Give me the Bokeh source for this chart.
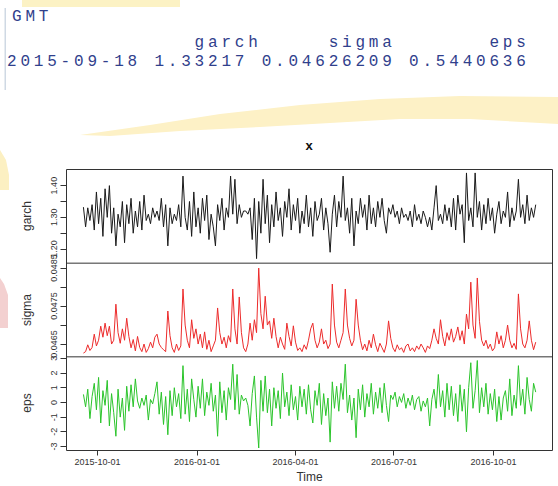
import pandas as pd
from bokeh.plotting import figure
from bokeh.models import Range1d, FixedTicker, Span, DatetimeTickFormatter, Div
from bokeh.layouts import column, row
from bokeh.embed import file_html
from bokeh.resources import INLINE

# ---------------- data ----------------
start_date = "2015-09-18"
series_names = ["garch", "sigma", "eps"]

garch = [1.33217, 1.27, 1.33, 1.29, 1.34,
         1.26, 1.38, 1.28, 1.36, 1.24,
         1.39, 1.30, 1.40, 1.25, 1.33,
         1.21, 1.31, 1.27, 1.35, 1.22,
         1.34, 1.28, 1.36, 1.25, 1.32,
         1.27, 1.35, 1.26, 1.37, 1.29,
         1.31, 1.28, 1.33, 1.30, 1.32,
         1.29, 1.36, 1.27, 1.34, 1.21,
         1.33, 1.28, 1.31, 1.29, 1.34,
         1.27, 1.43, 1.30, 1.26, 1.35,
         1.24, 1.38, 1.27, 1.33, 1.25,
         1.36, 1.29, 1.37, 1.23, 1.31,
         1.27, 1.21, 1.34, 1.29, 1.36,
         1.26, 1.33, 1.30, 1.43, 1.31,
         1.42, 1.28, 1.34, 1.30, 1.32,
         1.32, 1.31, 1.33, 1.23, 1.36,
         1.17, 1.35, 1.25, 1.42, 1.28,
         1.37, 1.22, 1.34, 1.27, 1.38,
         1.29, 1.33, 1.24, 1.35, 1.30,
         1.39, 1.26, 1.34, 1.29, 1.36,
         1.25, 1.32, 1.28, 1.37, 1.27,
         1.33, 1.24, 1.35, 1.29, 1.31,
         1.36, 1.26, 1.33, 1.28, 1.19,
         1.31, 1.37, 1.27, 1.35, 1.30,
         1.43, 1.29, 1.33, 1.25, 1.36,
         1.21, 1.32, 1.28, 1.36, 1.30,
         1.34, 1.26, 1.37, 1.28, 1.33,
         1.27, 1.35, 1.30, 1.36, 1.29,
         1.25, 1.33, 1.31, 1.34, 1.30,
         1.32, 1.28, 1.33, 1.30, 1.31,
         1.29, 1.32, 1.27, 1.34, 1.29,
         1.31, 1.28, 1.32, 1.30, 1.27,
         1.30, 1.26, 1.33, 1.40, 1.29,
         1.31, 1.28, 1.34, 1.29, 1.33,
         1.27, 1.36, 1.26, 1.37, 1.31,
         1.34, 1.22, 1.44, 1.29, 1.33,
         1.27, 1.44, 1.30, 1.35, 1.26,
         1.34, 1.28, 1.36, 1.29, 1.33,
         1.25, 1.31, 1.35, 1.28, 1.32,
         1.30, 1.38, 1.27, 1.33, 1.29,
         1.32, 1.42, 1.30, 1.34, 1.28,
         1.37, 1.29, 1.33, 1.30, 1.34]

sigma = [0.04626209, 0.04630, 0.04648, 0.04633, 0.04641,
         0.04676, 0.04645, 0.04660, 0.04697, 0.04668,
         0.04705, 0.04672, 0.04697, 0.04650, 0.04660,
         0.04755, 0.04680, 0.04652, 0.04690, 0.04660,
         0.04718, 0.04670, 0.04640, 0.04662, 0.04632,
         0.04670, 0.04641, 0.04630, 0.04650, 0.04628,
         0.04638, 0.04655, 0.04640, 0.04668, 0.04676,
         0.04650, 0.04641, 0.04635, 0.04630, 0.04737,
         0.04672, 0.04640, 0.04628, 0.04650, 0.04633,
         0.04645, 0.04795, 0.04700, 0.04660, 0.04640,
         0.04714, 0.04665, 0.04690, 0.04650, 0.04676,
         0.04640, 0.04682, 0.04636, 0.04660, 0.04630,
         0.04645, 0.04660, 0.04745, 0.04680, 0.04650,
         0.04668, 0.04640, 0.04672, 0.04655, 0.04795,
         0.04690, 0.04650, 0.04774, 0.04680, 0.04640,
         0.04630, 0.04650, 0.04705, 0.04660, 0.04714,
         0.04680, 0.04850, 0.04730, 0.04690, 0.04776,
         0.04700, 0.04711, 0.04665, 0.04718, 0.04670,
         0.04640, 0.04668, 0.04650, 0.04636, 0.04705,
         0.04670, 0.04645, 0.04698, 0.04655, 0.04633,
         0.04640, 0.04630, 0.04648, 0.04636, 0.04660,
         0.04690, 0.04705, 0.04660, 0.04640, 0.04655,
         0.04690, 0.04650, 0.04660, 0.04638, 0.04650,
         0.04808, 0.04700, 0.04655, 0.04640, 0.04660,
         0.04680, 0.04795, 0.04700, 0.04665, 0.04645,
         0.04660, 0.04768, 0.04700, 0.04660, 0.04635,
         0.04650, 0.04632, 0.04660, 0.04640, 0.04676,
         0.04648, 0.04630, 0.04652, 0.04640, 0.04628,
         0.04650, 0.04711, 0.04665, 0.04640, 0.04630,
         0.04648, 0.04635, 0.04640, 0.04628, 0.04645,
         0.04650, 0.04632, 0.04640, 0.04630, 0.04645,
         0.04636, 0.04650, 0.04640, 0.04628, 0.04645,
         0.04638, 0.04660, 0.04690, 0.04665, 0.04650,
         0.04714, 0.04670, 0.04645, 0.04680, 0.04660,
         0.04690, 0.04655, 0.04670, 0.04695, 0.04660,
         0.04685, 0.04650, 0.04729, 0.04690, 0.04813,
         0.04700, 0.04665, 0.04824, 0.04710, 0.04660,
         0.04645, 0.04660, 0.04638, 0.04650, 0.04632,
         0.04640, 0.04682, 0.04650, 0.04672, 0.04640,
         0.04660, 0.04700, 0.04660, 0.04640, 0.04652,
         0.04636, 0.04782, 0.04690, 0.04650, 0.04640,
         0.04660, 0.04711, 0.04660, 0.04635, 0.04655]

eps = [0.5440636, -0.3, 0.9, -1.1, 0.4,
       1.3, -0.5, 1.7, -1.4, 0.8,
       -0.2, 1.5, -1.6, 0.6, -0.7,
       -2.3, 0.9, -1.0, 0.3, -1.9,
       1.1, -0.6, 1.2, -0.3, 1.6,
       0.1, -0.4, 0.3, -0.2, 0.5,
       -1.2, 0.2, -0.1, 0.6, 1.4,
       -0.8, 0.7, -1.5, 0.4, -2.2,
       0.8, -0.9, 1.0, -0.3, 0.6,
       -1.1, 2.5, -0.8, 0.9, -1.3,
       1.6, 0.2, -1.0, 1.1, -0.4,
       1.6, -0.9, 0.7, -0.2, 1.3,
       -0.6, 0.5, -2.3, 1.4, -0.7,
       0.8, -1.2, 1.0, 0.2, 2.6,
       -0.5, 1.9, -0.8, 0.5, 0.1,
       0.3, -0.2, -1.6, 0.6, 1.8,
       -1.0, -3.1, 1.5, -0.6, 1.8,
       -0.7, 0.9, -1.6, 1.0, -0.4,
       0.8, -1.1, 2.0, -0.3, 0.7,
       -0.9, 1.2, -0.5, 0.4, -1.2,
       1.1, -0.3, 0.9, -0.8, 1.2,
       -0.5, -1.4, 0.8, -0.2, 1.3,
       -1.5, 0.6, -0.9, 0.3, -2.7,
       1.4, -0.4, 1.1, -0.6, 1.3,
       0.2, 2.6, -0.7, 0.5, -1.2,
       0.3, -2.4, 0.9, -0.5, 1.2,
       -1.0, 0.6, -0.3, 1.3, -0.8,
       0.7, -0.4, 1.0, -0.7, 1.3,
       -0.2, -1.3, 0.5, 0.2, 0.7,
       -0.3, 0.4, 0.0, 0.6, -0.4,
       0.3, -0.2, 0.5, -0.5, 0.2,
       0.4, -0.6, 0.1, -0.3, 0.3,
       -1.6, 0.2, 0.9, -0.4, 1.9,
       -0.3, 0.8, -1.0, 1.3, -0.5,
       1.1, -0.9, 0.6, -1.3, 1.2,
       -0.6, 0.9, -2.0, 1.0, 2.7,
       -0.4, 0.8, 2.85, -0.7, 1.0,
       -0.3, 1.3, -0.8, 0.6, -0.5,
       0.9, -1.3, 0.4, -1.2, 0.3,
       0.8, -0.6, 1.6, -0.9, 0.5,
       -0.4, 2.5, -0.2, 0.9, -0.8,
       1.7, 0.2, -0.6, 1.3, 0.7]

garch_lim = (1.1556, 1.4508)
sigma_lim = (0.046163, 0.048630)
eps_lim = (-3.27, 3.10)

garch_ticks = [1.20, 1.25, 1.30, 1.35, 1.40]
garch_tick_labels = ["1.20", "", "1.30", "", "1.40"]
sigma_ticks = [0.0465, 0.0470, 0.0475, 0.0480, 0.0485]
sigma_tick_labels = ["0.0465", "", "0.0475", "", "0.0485"]
eps_ticks = [-3, -2, -1, 0, 1, 2, 3]
eps_tick_labels = ["-3", "-2", "-1", "0", "1", "2", "3"]

x_tick_dates = ["2015-10-01", "2016-01-01", "2016-04-01", "2016-07-01", "2016-10-01"]
x_start, x_end = "2015-09-02 08:24", "2016-11-24 12:00"

dates = pd.date_range(start_date, periods=len(garch), freq="2D")

# ---------------- layout constants ----------------
HEAD_H = 160            # height of the console-output strip
LEFT_W = 40             # strip holding the panel names
FT, FW, FH = 9, 486, 281  # frame top offset / size inside the plot
PLOT_H = FT + FH + 36
NP = len(series_names)

# ---------------- header: the R console output above the chart ----------------
TXT = "#30408c"
row_vals = [start_date, f"{garch[0]:.5f}", f"{sigma[0]:.8f}", f"{eps[0]:.7f}"]
row3 = " ".join(row_vals)
row2 = (" " * 14 + series_names[0] + " " * 5 + series_names[1] + " " * 7 + series_names[2])

mono = ("font-family:'Liberation Mono',monospace;font-size:16px;line-height:16px;"
        "letter-spacing:3.8px;white-space:pre;color:%s;position:absolute;margin:0;" % TXT)
header_html = f"""
<div style="position:relative;width:558px;height:{HEAD_H}px;overflow:hidden;background:#ffffff;">
  <svg width="558" height="{HEAD_H}" style="position:absolute;left:0;top:0;">
    <rect x="22" y="0" width="158" height="7" fill="#fcf2c4"/>
    <polygon fill="#fdf1c6" points="80,135 150,125 220,114 300,105 380,99 460,96 558,97 558,124 470,119 400,119 330,123 260,127 180,131 110,136"/>
    <polygon fill="#fcf0c2" points="0,150 6,160 0,160"/>
    <rect x="4.5" y="8" width="1.5" height="82" fill="#cfd9e4"/>
  </svg>
  <div style="{mono}left:12px;top:9px;">GMT</div>
  <div style="{mono}left:7px;top:35px;">{row2}</div>
  <div style="{mono}left:7px;top:54px;">{row3}</div>
  <div style="position:absolute;left:259px;top:139px;width:100px;text-align:center;
              font-family:'Liberation Sans',Arial,sans-serif;font-weight:bold;font-size:13px;
              line-height:13px;color:#111111;">x</div>
</div>
"""
head = Div(text=header_html, width=558, height=HEAD_H, margin=0)

# ---------------- left strip: panel names (rotated, like R's ylab) ----------------
label_divs = ""
for i, name in enumerate(series_names):
    yc = FT + FH * (i + 0.5) / NP
    label_divs += (f'<div style="position:absolute;left:-23px;top:{yc - 7:.1f}px;width:100px;'
                   f'height:14px;line-height:14px;text-align:center;transform:rotate(-90deg);'
                   f"font-family:'Liberation Sans',Arial,sans-serif;font-size:12px;"
                   f'color:#333333;">{name}</div>')
left_html = f"""
<div style="position:relative;width:{LEFT_W}px;height:{PLOT_H}px;background:#ffffff;">
  <svg width="{LEFT_W}" height="{PLOT_H}" style="position:absolute;left:0;top:0;">
    <polygon fill="#fcf0c2" points="0,0 6,0 9,15 9,30 0,30"/>
    <polygon fill="#f3d0d0" points="0,118 4,124 8,135 8,168 0,168"/>
  </svg>
  {label_divs}
</div>
"""
left = Div(text=left_html, width=LEFT_W, height=PLOT_H, margin=0)

# ---------------- main multi-panel plot ----------------
p = figure(frame_width=FW, frame_height=FH, x_axis_type="datetime",
           x_range=Range1d(pd.Timestamp(x_start), pd.Timestamp(x_end)),
           y_range=Range1d(0, NP), toolbar_location=None, output_backend="svg",
           min_border_left=66 - LEFT_W, min_border_right=6, min_border_top=FT,
           min_border_bottom=36)
p.grid.visible = False
p.outline_line_color = "#333333"
p.outline_line_width = 1

panels = [("garch", garch, garch_lim, 2, "#1a1a1a"),
          ("sigma", sigma, sigma_lim, 1, "#ec2b2b"),
          ("eps", eps, eps_lim, 0, "#2bc42b")]
tick_sets = {"garch": (garch_ticks, garch_tick_labels),
             "sigma": (sigma_ticks, sigma_tick_labels),
             "eps": (eps_ticks, eps_tick_labels)}
tick_pos, tick_lab = [], []
for name, vals, (lo, hi), k, col in panels:
    h = hi - lo
    p.extra_y_ranges[name] = Range1d(lo - k * h, hi + (NP - 1 - k) * h)
    p.line(dates, vals, y_range_name=name, line_color=col, line_width=1)
    tv, tl = tick_sets[name]
    for v, l in zip(tv, tl):
        tick_pos.append(round(k + (v - lo) / h, 6))
        tick_lab.append(l)

for b in range(1, NP):
    p.add_layout(Span(location=b, dimension="width", line_color="#333333", line_width=1))

yax = p.yaxis[0]
yax.ticker = FixedTicker(ticks=tick_pos)
yax.major_label_overrides = {t: l for t, l in zip(tick_pos, tick_lab)}
yax.major_label_orientation = "vertical"
yax.major_tick_out = 6
yax.major_tick_in = 0
yax.minor_tick_line_color = None
yax.axis_line_color = None
yax.major_label_standoff = 3
yax.major_label_text_font = "Liberation Sans"
yax.major_label_text_font_size = "9px"
yax.major_label_text_color = "#333333"
yax.major_tick_line_color = "#333333"

xax = p.xaxis[0]
xax.ticker = FixedTicker(ticks=[pd.Timestamp(d).value / 1e6 for d in x_tick_dates])
xax.formatter = DatetimeTickFormatter(days="%Y-%m-%d", months="%Y-%m-%d", years="%Y-%m-%d")
xax.axis_label = "Time"
xax.axis_label_text_font = "Liberation Sans"
xax.axis_label_text_font_size = "12px"
xax.axis_label_text_font_style = "normal"
xax.axis_label_text_color = "#333333"
xax.axis_label_standoff = 2
xax.major_tick_out = 5
xax.major_tick_in = 0
xax.minor_tick_line_color = None
xax.axis_line_color = None
xax.major_label_standoff = 3
xax.major_label_text_font = "Liberation Sans"
xax.major_label_text_font_size = "9px"
xax.major_label_text_color = "#333333"
xax.major_tick_line_color = "#333333"

layout = column(head, row(left, p, spacing=0), spacing=0)
open("out.html", "w").write(file_html(layout, INLINE))
